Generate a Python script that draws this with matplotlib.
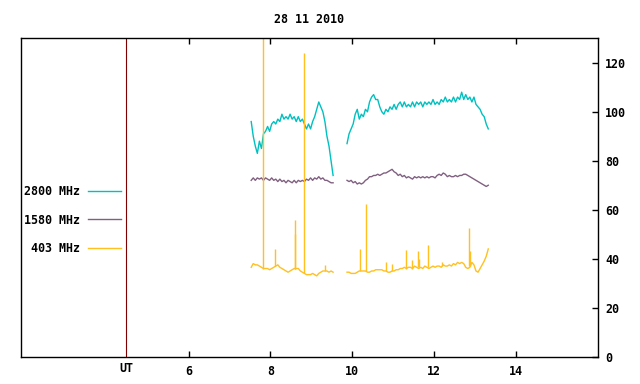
import numpy as np
import matplotlib
matplotlib.use("Agg")
import matplotlib.pyplot as plt

# --- Data (hours UT, solar flux units) ---
step = 0.05
seg_starts = [7.53, 9.87]          # start time of each recording segment

# 2800 MHz
f2800_seg1 = [96, 90, 86, 83, 88, 85, 91, 92, 94, 92, 95, 96, 95, 97, 96, 99, 97, 98, 97, 99,
              97, 98, 96, 98, 96, 97, 95, 93, 95, 93, 96, 98, 101, 104, 102, 100, 96, 90, 86, 80, 74]
f2800_seg2 = [87, 91, 93, 95, 99, 101, 97, 99, 98, 101, 100, 104, 106, 107, 105, 105, 102, 100, 99, 101,
              100, 102, 101, 103, 101, 103, 104, 102, 104, 102, 103, 102, 104, 102, 104, 103, 104, 102, 104, 103,
              104, 103, 105, 103, 104, 103, 105, 104, 106, 104, 105, 104, 106, 104, 106, 105, 108, 105, 107, 105,
              106, 104, 106, 103, 102, 101, 99, 98, 95, 93]

# 1580 MHz
f1580_seg1 = [72, 73, 72, 73, 72.5, 73, 72, 73, 72.5, 72, 73, 72, 72.5, 71.5, 72.5, 71.5, 72, 71, 72, 71.5,
              71, 72, 71, 72, 71.5, 72, 71.5, 72.5, 72, 73, 72, 73, 72.5, 73.5, 72.5, 73, 72, 72, 71.5, 71, 71]
f1580_seg2 = [72, 71.5, 72, 71, 71.5, 70.5, 71, 70.5, 71, 72, 72.5, 73.5, 73.5, 74, 74, 74.5, 74, 74.5, 75, 75,
              75.5, 76, 76.5, 75.5, 75, 74, 74.5, 73.5, 74, 73, 73.5, 73, 72.5, 73.5, 73, 73.5, 73, 73.5, 73, 73.5,
              73, 73.5, 73.5, 73, 74, 74.5, 74, 75, 74.5, 73.5, 74, 73.5, 73.5, 74, 73.5, 74, 74, 74.5, 74.5, 74,
              73.5, 73, 72.5, 72, 71.5, 71, 70.5, 70, 69.5, 70]

# 403 MHz baseline
f403_seg1 = [36.5, 38, 37.5, 37.5, 37, 36.5, 36, 36, 36, 35.5, 36, 36.5, 37, 37.5, 36.5, 36, 35.5, 35, 34.5, 35,
             35.5, 36, 36, 36, 35, 34.5, 34, 33.5, 33.5, 33.5, 34, 33.5, 33, 34, 34.5, 35, 35, 35, 34.5, 35, 34.5]
f403_seg2 = [34.5, 34.5, 34, 34, 34, 34.5, 35, 35, 35, 35, 34.5, 34.5, 35, 35, 35.5, 35.5, 35.5, 35.5, 35, 35,
             34.5, 34.5, 35, 35, 35.5, 35.5, 36, 36, 36.5, 36, 36.5, 36.5, 36, 37, 36.5, 36, 36.5, 36, 37, 36.5,
             36, 36.5, 37, 36.5, 37, 37, 36.5, 37.5, 37, 37, 37.5, 37, 38, 37.5, 38.5, 38, 38.5, 38, 36.5, 36,
             36.5, 38.5, 37.5, 35, 34.5, 36, 37.5, 39, 41, 44]

# 403 MHz bursts (time, peak, baseline)
spike_t = [7.83, 8.11, 8.59, 8.61, 8.83, 9.33, 10.19, 10.33, 10.82, 10.97, 11.31, 11.46,
           11.61, 11.63, 11.85, 12.20, 12.85, 12.87]
spike_top = [140, 44, 56, 50, 124, 37.5, 44, 62.5, 38.5, 38, 43.5, 39.5,
             43, 40, 45.5, 38.5, 52.5, 43]
spike_base = [36, 37, 36, 36, 34, 35, 35, 35, 35, 35, 36, 36,
              36.5, 36.5, 36.5, 37, 37, 37]

labels = ['2800 MHz', '1580 MHz', ' 403 MHz']
colors = ['#00c0c0', '#806080', '#ffc020']
xtick_pos = [6, 8, 10, 12, 14]
ut_pos = 4.47
title = '28 11 2010'

plt.rcParams['font.family'] = 'DejaVu Sans Mono'
plt.rcParams['font.weight'] = 'bold'
plt.rcParams['font.size'] = 8.4

fig = plt.figure(figsize=(6.4, 3.84), dpi=100)
ax = fig.add_axes([0.0323, 0.0711, 0.9021, 0.8292])

series = [(f2800_seg1, f2800_seg2), (f1580_seg1, f1580_seg2), (f403_seg1, f403_seg2)]
for (s1, s2), lab, col in zip(series, labels, colors):
    for k, seg in enumerate((s1, s2)):
        t = seg_starts[k] + step * np.arange(len(seg))
        ax.plot(t, seg, color=col, lw=1.0, label=lab if k == 0 else None)
ax.vlines(spike_t, spike_base, spike_top, color=colors[2], lw=1.0)

ax.axvline(ut_pos, color='#800000', lw=0.8)

ax.set_xlim(1.9, 16)
ax.set_ylim(0, 130)

ax.set_xticks(xtick_pos)
ax.set_xticks([ut_pos], labels=['UT'], minor=True)
ax.tick_params(axis='x', which='major', direction='in', length=4, width=1,
               top=True, pad=6)
ax.tick_params(axis='x', which='minor', length=0, pad=4)
ax.yaxis.tick_right()
ax.set_yticks(range(0, 121, 20))
ax.tick_params(axis='y', direction='in', length=4, width=1, pad=5, left=False)
for sp in ax.spines.values():
    sp.set_linewidth(1.0)

ax.set_title(title, pad=11, fontsize=8.4, fontweight='bold')

ax.legend(loc='upper right', bbox_to_anchor=(0.1732, 0.538), frameon=False,
          markerfirst=False, borderpad=0, handlelength=2.8, handletextpad=0.7,
          labelspacing=1.3, borderaxespad=0)

fig.savefig('out.png', dpi=100)
